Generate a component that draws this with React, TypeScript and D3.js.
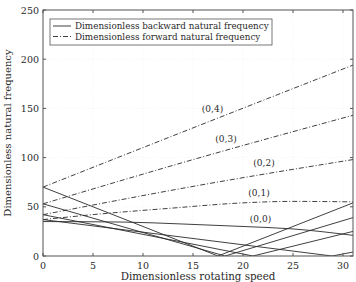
import React from "react";
import * as d3 from "d3";

// Rotating speed samples (x) and dimensionless natural frequencies
const forward04: [number, number][] = [[0, 70], [15.7, 133], [31, 194]];
const forward03: [number, number][] = [[0, 53], [15.7, 100], [31, 143]];
const forward02: [number, number][] = [[0, 42], [15.7, 72], [31, 98]];
const forward01: [number, number][] = [[0, 37], [6, 43], [12.7, 48.5], [20, 54], [25, 55.5], [31, 55]];

const backward04: [number, number][] = [[0, 70], [17.5, 0], [31, 54]];
const backward03: [number, number][] = [[0, 53], [18.2, 0], [31, 39]];
const backward02: [number, number][] = [[0, 42], [21, 0], [31, 25]];
const backward01: [number, number][] = [[0, 37], [28.9, 0], [31, 4]];
const mode00: [number, number][] = [[0, 35], [8, 34.5], [14, 32.5], [20, 30], [25, 27.5], [31, 21]];

const modeLabels = ["(0,4)", "(0,3)", "(0,2)", "(0,1)", "(0,0)"];
const modeLabelAt: [number, number][] = [[16.95, 149], [18.3, 119], [22.1, 94.5], [21.6, 64], [21.75, 37.6]];

const xTicks = [0, 5, 10, 15, 20, 25, 30];
const yTicks = [0, 50, 100, 150, 200, 250];
const legendItems = ["Dimensionless backward natural frequency", "Dimensionless forward natural frequency"];

const W = 356, H = 282;
const M = { left: 43, right: 3, top: 10, bottom: 26 };
const FONT = "'DejaVu Serif', serif";
const INK = "#2a2a2a";

export default function App() {
  const x = d3.scaleLinear().domain([0, 31]).range([M.left, W - M.right]);
  const y = d3.scaleLinear().domain([0, 250]).range([H - M.bottom, M.top]);
  const line = d3.line<[number, number]>().x(d => x(d[0])).y(d => y(d[1]));
  const smooth = d3.line<[number, number]>().x(d => x(d[0])).y(d => y(d[1])).curve(d3.curveMonotoneX);

  const forward = [forward04, forward03, forward02, forward01];
  const backward = [backward04, backward03, backward02, backward01];
  const x0 = x(0), x1 = x(31), y0 = y(0), y1 = y(250);
  const dash = "5,2,1,2";

  return (
    <svg width={W} height={H} style={{ position: "absolute", left: 0, top: 0, background: "#fff" }}>
      <defs>
        <clipPath id="plot"><rect x={x0} y={y1} width={x1 - x0} height={y0 - y1} /></clipPath>
      </defs>
      {xTicks.map(t => (
        <line key={"gx" + t} x1={x(t)} x2={x(t)} y1={y0} y2={y1} stroke="#ececec" strokeWidth={0.6} strokeDasharray="1,2" />
      ))}
      {yTicks.map(t => (
        <line key={"gy" + t} x1={x0} x2={x1} y1={y(t)} y2={y(t)} stroke="#ececec" strokeWidth={0.6} strokeDasharray="1,2" />
      ))}
      <g clipPath="url(#plot)" fill="none" stroke={INK} strokeWidth={0.9}>
        {forward.map((d, i) => (
          <path key={"f" + i} d={smooth(d) || ""} strokeDasharray={dash} />
        ))}
        {backward.map((d, i) => (
          <path key={"b" + i} d={line(d) || ""} />
        ))}
        <path d={smooth(mode00) || ""} />
      </g>
      <rect x={x0} y={y1} width={x1 - x0} height={y0 - y1} fill="none" stroke="#555" strokeWidth={1} />
      {xTicks.map(t => (
        <g key={"tx" + t}>
          <line x1={x(t)} x2={x(t)} y1={y0} y2={y0 - 3} stroke="#555" />
          <line x1={x(t)} x2={x(t)} y1={y1} y2={y1 + 3} stroke="#555" />
          <text x={x(t)} y={y0 + 13} textAnchor="middle" fontFamily={FONT} fontSize={9.5} fill={INK}>{t}</text>
        </g>
      ))}
      {yTicks.map(t => (
        <g key={"ty" + t}>
          <line x1={x0} x2={x0 + 3} y1={y(t)} y2={y(t)} stroke="#555" />
          <line x1={x1} x2={x1 - 3} y1={y(t)} y2={y(t)} stroke="#555" />
          <text x={x0 - 4} y={y(t) + 3.5} textAnchor="end" fontFamily={FONT} fontSize={9.5} fill={INK}>{t}</text>
        </g>
      ))}
      {modeLabels.map((s, i) => (
        <text key={s} x={x(modeLabelAt[i][0])} y={y(modeLabelAt[i][1]) + 3} textAnchor="middle" fontFamily={FONT} fontSize={9} fill={INK}>{s}</text>
      ))}
      <rect x={50} y={19} width={222} height={26} fill="#fff" stroke="#555" strokeWidth={0.8} />
      {legendItems.map((s, i) => (
        <g key={s}>
          <line x1={53} x2={71} y1={26 + i * 10.5} y2={26 + i * 10.5} stroke={INK} strokeWidth={0.9} strokeDasharray={i === 1 ? dash : undefined} />
          <text x={75} y={29 + i * 10.5} fontFamily={FONT} fontSize={8.8} fill={INK}>{s}</text>
        </g>
      ))}
      <text x={(x0 + x1) / 2} y={H - 2} textAnchor="middle" fontFamily={FONT} fontSize={10.3} fill={INK}>Dimensionless rotating speed</text>
      <text transform={`translate(11,${(y0 + y1) / 2}) rotate(-90)`} textAnchor="middle" fontFamily={FONT} fontSize={10} fill={INK}>Dimensionless natural frequency</text>
    </svg>
  );
}
